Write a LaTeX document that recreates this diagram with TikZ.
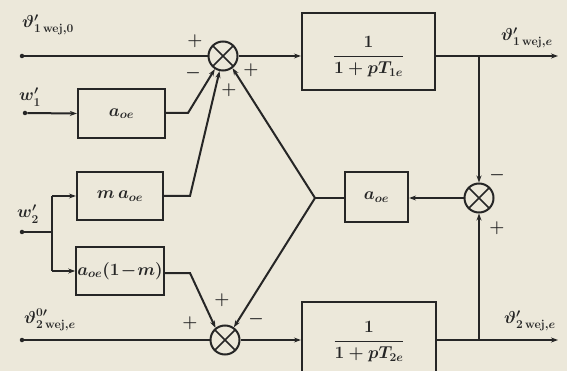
\documentclass[tikz,border=0pt]{standalone}
\usepackage{amsmath}
\usetikzlibrary{arrows.meta,calc}
\definecolor{paper}{RGB}{236,232,218}
\definecolor{ink}{RGB}{38,38,38}
\tikzset{
  sig/.style={draw=ink, line width=2pt},
  arr/.style={sig, -{Stealth[length=7pt,width=5pt]}},
  blockbox/.style={draw=ink, line width=2.2pt, rectangle, inner sep=0pt},
  sumnode/.style={draw=ink, line width=2pt, circle, minimum size=29pt, inner sep=0pt,
    path picture={
      \draw[ink, line width=1.6pt] (path picture bounding box.north west) -- (path picture bounding box.south east)
        (path picture bounding box.north east) -- (path picture bounding box.south west);}},
  lbl/.style={inner sep=1pt, text=ink, font=\fontsize{17}{19}\selectfont\boldmath},
  sgn/.style={inner sep=0pt, text=ink, font=\fontsize{19}{21}\selectfont\boldmath},
  dot/.style={circle, fill=ink, inner sep=0pt, minimum size=4.5pt},
}
\begin{document}
\begin{tikzpicture}[x=1pt, y=-1pt]
  \fill[paper] (0,0) rectangle (567,371);
  \useasboundingbox (0,0) rectangle (567,371);

  % summing junctions
  \node[sumnode] (s1) at (223,56) {};
  \node[sumnode] (s2) at (225,340) {};
  \node[sumnode] (s3) at (479,198) {};

  % transfer blocks
  \node[blockbox, minimum width=133pt, minimum height=77pt] (g1) at (368.5,51.5) {};
  \node[lbl] (g1t) at (368.5,57) {$\dfrac{1}{1+pT_{1e}}$};
  \node[blockbox, minimum width=134pt, minimum height=70pt] (g2) at (369,337) {};
  \node[lbl] (g2t) at (369,342) {$\dfrac{1}{1+pT_{2e}}$};

  \node[blockbox, minimum width=87pt, minimum height=49pt, lbl] (k1) at (121.5,113.5) {$a_{oe}$};
  \node[blockbox, minimum width=86pt, minimum height=48pt, lbl] (k2) at (120,196) {$m\,a_{oe}$};
  \node[blockbox, minimum width=86pt, minimum height=48pt, lbl] (k3) at (120,271) {$a_{oe}(1\!-\!m)$};
  \node[blockbox, minimum width=63pt, minimum height=50pt, lbl] (k4) at (376.5,197) {$a_{oe}$};

  % inputs
  \node[dot] (in1) at (22,56) {};
  \node[dot] (in2) at (25,113) {};
  \node[dot] (in3) at (22,232) {};
  \node[dot] (in4) at (22,340) {};

  \coordinate (j2) at (52,232);
  \coordinate (j2a) at (52,196);
  \coordinate (j2b) at (52,271);
  \coordinate (c1) at (188,113);
  \coordinate (c2) at (190,196);
  \coordinate (c3) at (190,273);
  \coordinate (jm) at (315,198);
  \coordinate (b1) at (479,56);
  \coordinate (b2) at (479,340);
  \coordinate (out1) at (558,56);
  \coordinate (out2) at (558,340);

  % signal lines
  \draw[sig] (in1) -- (s1.west);
  \draw[arr] (s1.east) -- (s1.east -| g1.west);
  \draw[arr] (s1.east -| g1.east) -- (out1);
  \draw[arr] (b1) -- (s3.north);

  \draw[arr] (in2) -- (k1.west);
  \draw[arr] (k1.east |- c1) -- (c1) -- (s1.-122);

  \draw[sig] (in3) -- (j2);
  \draw[sig] (j2a) -- (j2b);
  \draw[arr] (j2a) -- (k2.west |- j2a);
  \draw[arr] (j2b) -- (k3.west |- j2b);
  \draw[arr] (k2.east |- c2) -- (c2) -- (s1.-103);
  \draw[arr] (k3.east |- c3) -- (c3) -- (s2.128);

  \draw[arr] (jm) -- (s1.-52);
  \draw[arr] (jm) -- (s2.55);
  \draw[sig] (jm) -- (k4.west |- jm);
  \draw[arr] (s3.west) -- (k4.east |- s3);

  \draw[sig] (in4) -- (s2.west);
  \draw[arr] (s2.east) -- (s2.east -| g2.west);
  \draw[arr] (s2.east -| g2.east) -- (out2);
  \draw[arr] (b2) -- (s3.south);

  % signal names
  \node[lbl] (n1) at (48,25) {$\vartheta'_{1\,\mathrm{wej},0}$};
  \node[lbl] (n2) at (30,97) {$w'_1$};
  \node[lbl] (n3) at (28,214) {$w'_2$};
  \node[lbl] (n4) at (50,320) {$\vartheta^{0\prime}_{2\,\mathrm{wej},e}$};
  \node[lbl] (n5) at (527,38) {$\vartheta'_{1\,\mathrm{wej},e}$};
  \node[lbl] (n6) at (530,321) {$\vartheta'_{2\,\mathrm{wej},e}$};

  % signs at the junctions
  \node[sgn] (p1) at (195,41) {$+$};
  \node[sgn] (p2) at (193,73) {$-$};
  \node[sgn] (p3) at (229,90) {$+$};
  \node[sgn] (p4) at (251,70) {$+$};
  \node[sgn] (p5) at (190,323) {$+$};
  \node[sgn] (p6) at (222,300) {$+$};
  \node[sgn] (p7) at (256,319) {$-$};
  \node[sgn] (p8) at (497,175) {$-$};
  \node[sgn] (p9) at (497,228) {$+$};
\end{tikzpicture}
\end{document}
